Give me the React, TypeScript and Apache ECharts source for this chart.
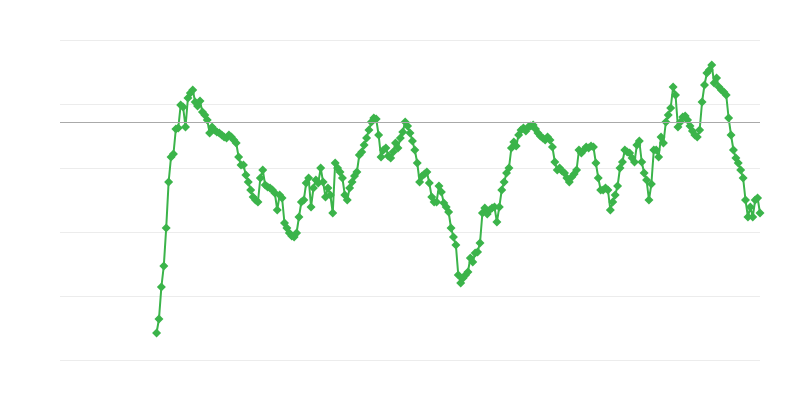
import React, { useEffect, useRef } from "react";
import * as echarts from "echarts";

// Series values (arbitrary units, axis 0..320), one per step, starting at step 40
const startStep = 40;
const values = [
  27, 41, 73, 94, 132, 178, 203, 206, 231, 232,
  255, 253, 233, 262, 267, 270, 258, 254, 259, 248,
  245, 240, 227, 233, 230, 228, 227, 225, 223, 222,
  225, 223, 220, 217, 203, 195, 195, 185, 178, 170,
  163, 160, 158, 182, 190, 175, 173, 172, 170, 167,
  150, 165, 162, 137, 132, 127, 124, 123, 127, 143,
  158, 160, 177, 182, 153, 172, 180, 177, 192, 178,
  163, 172, 165, 147, 197, 192, 188, 182, 165, 160,
  172, 178, 184, 188, 205, 208, 215, 222, 230, 238,
  242, 241, 225, 203, 210, 212, 204, 202, 208, 217,
  212, 222, 228, 238, 234, 227, 219, 210, 197, 178,
  184, 186, 188, 177, 163, 158, 158, 174, 168, 157,
  153, 148, 132, 123, 115, 85, 77, 82, 85, 88,
  102, 98, 107, 108, 117, 147, 152, 146, 150, 152,
  153, 138, 153, 170, 178, 187, 192, 212, 218, 214,
  225, 230, 232, 229, 233, 234, 235, 231, 227, 224,
  222, 220, 223, 220, 213, 198, 190, 192, 189, 187,
  182, 178, 183, 186, 190, 210, 207, 210, 213, 212,
  214, 213, 197, 182, 170, 170, 172, 170, 150, 158,
  165, 174, 192, 198, 210, 208, 207, 202, 198, 215,
  219, 198, 187, 180, 160, 176, 210, 210, 203, 223,
  217, 238, 245, 252, 273, 265, 233, 238, 243, 244,
  240, 234, 229, 225, 223, 230, 258, 275, 287, 290,
  295, 277, 282, 273, 270, 268, 265, 242, 225, 210,
  202, 197, 190, 182, 160, 143, 153, 143, 160, 162,
  147,
];
const referenceLevel = 238;
const xMax = 290;

export default function App() {
  const ref = useRef<HTMLDivElement>(null);
  useEffect(() => {
    document.body.style.margin = "0";
    if (!ref.current) return;
    const chart = echarts.init(ref.current, undefined, { renderer: "svg" });
    const data = values.map((v, i) => [startStep + i, v]);
    chart.setOption({
      animation: false,
      grid: { left: 60, right: 40, top: 40, bottom: 40 },
      xAxis: {
        type: "value",
        min: 0,
        max: xMax,
        show: false,
      },
      yAxis: {
        type: "value",
        min: 0,
        max: 320,
        interval: 64,
        axisLine: { show: false },
        axisTick: { show: false },
        axisLabel: { show: false },
        splitLine: { lineStyle: { color: "#ececec", width: 1 } },
      },
      series: [
        {
          type: "line",
          data,
          symbol: "diamond",
          symbolSize: 9,
          showAllSymbol: true,
          itemStyle: { color: "#3bb44a" },
          lineStyle: { color: "#3bb44a", width: 2 },
          markLine: {
            silent: true,
            symbol: "none",
            label: { show: false },
            lineStyle: { color: "#aaaaaa", width: 1, type: "solid" },
            data: [{ yAxis: referenceLevel }],
          },
        },
      ],
    });
    return () => chart.dispose();
  }, []);
  return <div ref={ref} style={{ width: 800, height: 400 }} />;
}
